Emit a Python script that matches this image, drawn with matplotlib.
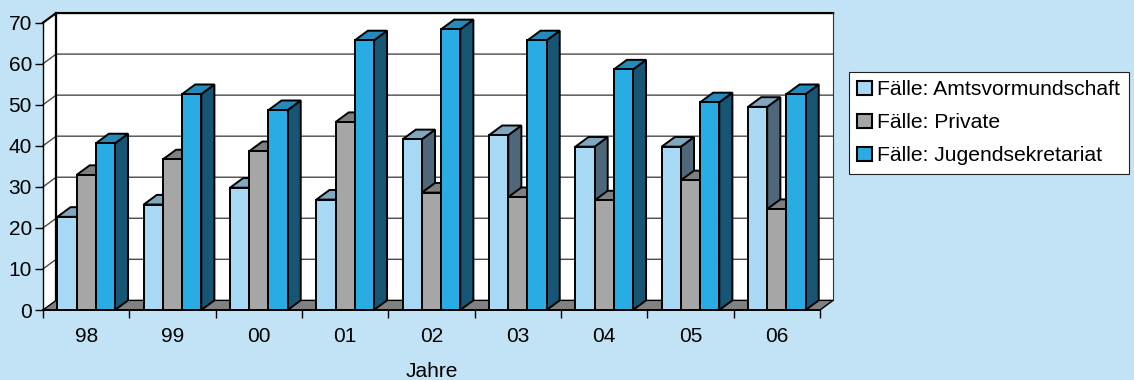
import matplotlib.pyplot as plt
from matplotlib.patches import Polygon, Patch

plt.rcParams['font.family'] = ['Liberation Sans', 'DejaVu Sans']

jahre = ['98', '99', '00', '01', '02', '03', '04', '05', '06']
amtsvormundschaft = [22.7, 25.7, 29.8, 26.9, 41.6, 42.6, 39.8, 39.8, 49.5]
private = [32.9, 36.7, 38.7, 45.8, 28.6, 27.5, 26.7, 31.6, 24.6]
jugendsekretariat = [40.6, 52.6, 48.7, 65.7, 68.4, 65.7, 58.6, 50.6, 52.6]

serien = [
    ('Fälle: Amtsvormundschaft', amtsvormundschaft, ('#a8d9f4', '#7fa7c0', '#4f6879')),
    ('Fälle: Private', private, ('#a6a6a6', '#7f7f7f', '#595959')),
    ('Fälle: Jugendsekretariat', jugendsekretariat, ('#29abe3', '#2589b9', '#175574')),
]

bg = '#c1e3f5'
ymax = 70
# depth of the 3d box in data units (x in categories, y in values)
dx, dy = 0.152, 2.35
n = len(jahre)
w = 1 / 4.5          # bar width, gap width 150 %
off = 0.75 / 4.5

fig = plt.figure(figsize=(11.34, 3.8), dpi=100, facecolor=bg)
ax = fig.add_axes([43 / 1134, 70 / 380, 777 / 1134, 287.3 / 380])
ax.set_xlim(0, n)
ax.set_ylim(0, ymax)
ax.patch.set_visible(False)
for s in ('top', 'right', 'bottom'):
    ax.spines[s].set_visible(False)
ax.spines['left'].set_linewidth(1.0)


def poly(pts, fc, ec='black', lw=1.4, z=2):
    ax.add_patch(Polygon(pts, closed=True, facecolor=fc, edgecolor=ec,
                         lw=lw, zorder=z, clip_on=False, joinstyle='miter'))


# walls and floor
poly([(dx, dy), (n + dx, dy), (n + dx, ymax + dy), (dx, ymax + dy)], 'white', ec='none', z=0)
poly([(0, 0), (dx, dy), (dx, ymax + dy), (0, ymax)], 'white', ec='none', z=0)
for v in range(10, ymax, 10):
    ax.plot([0, dx, n + dx], [v, v + dy, v + dy], color='#4a4a4a', lw=1.0,
            zorder=1, clip_on=False)
ax.plot([0, dx, n + dx], [ymax, ymax + dy, ymax + dy], color='black', lw=1.6,
        zorder=1, clip_on=False)
ax.plot([dx, dx], [dy, ymax + dy], color='black', lw=1.6, zorder=1, clip_on=False)
ax.plot([n + dx, n + dx], [dy, ymax + dy], color='#333333', lw=0.8, zorder=1, clip_on=False)
poly([(0, 0), (n, 0), (n + dx, dy), (dx, dy)], '#808080', lw=1.0, z=1)

# bars: left to right so later fronts cover earlier side faces
for i in range(n):
    for k, (name, werte, (c_front, c_top, c_side)) in enumerate(serien):
        v = werte[i]
        x0 = i + off + k * w
        x1 = x0 + w
        poly([(x1, 0), (x1 + dx, dy), (x1 + dx, v + dy), (x1, v)], c_side)
        poly([(x0, v), (x1, v), (x1 + dx, v + dy), (x0 + dx, v + dy)], c_top)
        poly([(x0, 0), (x1, 0), (x1, v), (x0, v)], c_front)

ax.plot([0, n], [0, 0], color='black', lw=1.3, zorder=3, clip_on=False)

# axes ticks and labels
ax.set_yticks(range(0, ymax + 1, 10))
ax.tick_params(axis='y', length=6, width=1.0, labelsize=15, pad=2)
ax.set_xticks([i + 0.5 for i in range(n)])
ax.set_xticklabels(jahre)
ax.set_xticks(range(n + 1), minor=True)
ax.tick_params(axis='x', which='major', length=0, labelsize=15, pad=12)
ax.tick_params(axis='x', which='minor', length=6, width=1.0)
ax.set_xlabel('Jahre', fontsize=15, labelpad=12)

handles = [Patch(facecolor=c[0], edgecolor='black', lw=1.5) for _, _, c in serien]
leg = fig.legend(handles, [s[0] for s in serien], loc='upper left',
                 bbox_to_anchor=(849 / 1134, 1 - 72 / 380), fontsize=15.2,
                 frameon=True, fancybox=False, framealpha=1.0,
                 handlelength=0.68, handleheight=0.68,
                 handletextpad=0.25, labelspacing=0.66, borderpad=0.4,
                 borderaxespad=0)
leg.get_frame().set_facecolor('white')
leg.get_frame().set_edgecolor('#222222')
leg.get_frame().set_linewidth(0.8)

fig.savefig('out.png', dpi=100, facecolor=bg)
